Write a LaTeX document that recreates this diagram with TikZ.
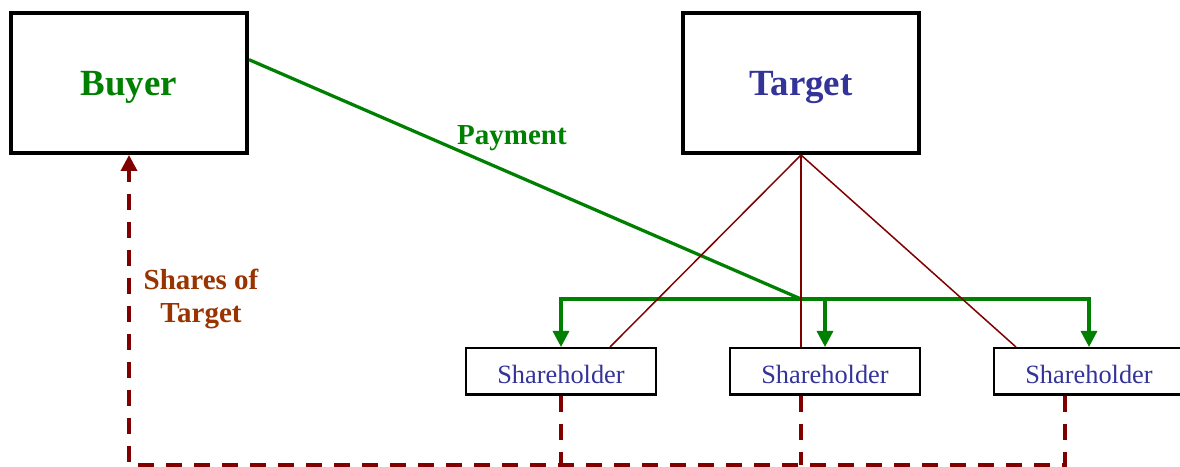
\documentclass[tikz,border=0pt]{standalone}
\usepackage{fontspec}
\setmainfont{Liberation Serif}
\usetikzlibrary{arrows.meta,calc}

\definecolor{paygreen}{RGB}{0,128,0}
\definecolor{sharered}{RGB}{128,0,0}
\definecolor{nameblue}{RGB}{51,51,153}
\definecolor{labelbrown}{RGB}{153,51,0}

\tikzset{
  party/.style={draw=black, line width=0.8mm, minimum width=47.2mm, minimum height=28mm,
    font=\fontsize{21}{25}\selectfont\bfseries},
  holder/.style={draw=black, line width=0.5mm, minimum width=38mm, minimum height=9.3mm,
    font=\fontsize{15}{18}\selectfont, text=nameblue},
  pay/.style={draw=paygreen, line width=0.65mm},
  owns/.style={draw=sharered, line width=0.3mm},
  shares/.style={draw=sharered, line width=0.7mm, dash pattern=on 3.2mm off 2.4mm},
  lbl/.style={font=\fontsize{16.5}{18.8}\selectfont\bfseries},
  tip/.style={-{Triangle[width=3.2mm, length=3.2mm]}}
}

\begin{document}
\begin{tikzpicture}[x=0.2mm, y=-0.2mm]

  \clip (0,0) rectangle (1180,467);

  \node[party, text=paygreen] (buyer) at (129,83) {};
  \node[party, text=nameblue] (target) at (801,83) {};
  \node[party, draw=none, text=paygreen] (buyertxt) at (129,87) {Buyer};
  \node[party, draw=none, text=nameblue] (targettxt) at (801,87) {Target};

  \foreach \i/\x in {1/561, 2/825, 3/1089} {
    \node[holder] (sh\i) at (\x,371.5) {};
    \node[holder, draw=none] (sh\i txt) at (\x,374.5) {Shareholder};
  }

  \coordinate (hub) at (801,299);
  \coordinate (floor) at (129,465);

  % payment to the shareholders
  \draw[pay] (buyer.11) -- (hub);
  \draw[pay, tip] (hub) -| (sh1.north);
  \draw[pay, tip] (hub) -| (sh3.north);
  \draw[pay, tip] (hub -| sh2.north) -- (sh2.north);
  \node[lbl, text=paygreen] (paylbl) at (512,138) {Payment};

  % ownership of the target
  \draw[owns] (target.south) -- ($(sh1.north)+(49,0)$);
  \draw[owns] (target.south) -- ($(sh2.north)+(-24,0)$);
  \draw[owns] (target.south) -- ($(sh3.north)+(-73,0)$);

  % shares go back to the buyer
  \coordinate (d1) at (sh1.south);
  \coordinate (d2) at ($(sh2.south)+(-24,0)$);
  \coordinate (d3) at ($(sh3.south)+(-24,0)$);
  \draw[shares] (d1) -- (d1 |- floor);
  \draw[shares] (d2) -- (d2 |- floor);
  \draw[shares, tip] (d3) |- (floor) -- (buyer.south);
  \node[lbl, text=labelbrown, align=center] (sharelbl) at (201,299) {Shares of\\Target};

\end{tikzpicture}
\end{document}
